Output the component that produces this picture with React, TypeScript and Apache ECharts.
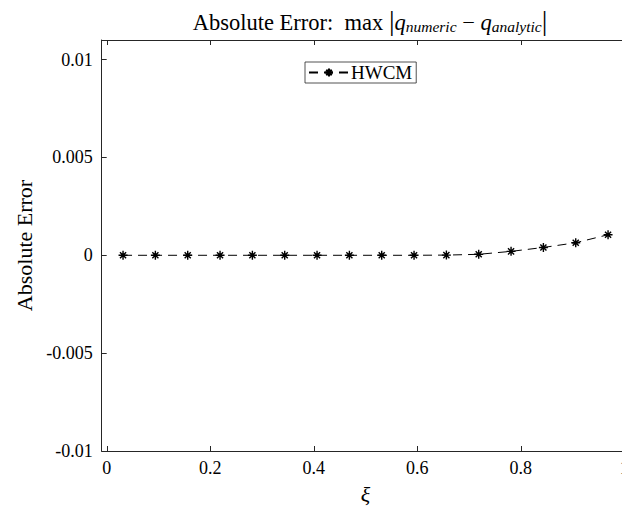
import React, { useEffect, useRef } from "react";
import * as echarts from "echarts";

// Collocation points ξ and the absolute error of the HWCM solution at each one
const xi = [
  0.03125, 0.09375, 0.15625, 0.21875, 0.28125, 0.34375, 0.40625, 0.46875,
  0.53125, 0.59375, 0.65625, 0.71875, 0.78125, 0.84375, 0.90625, 0.96875,
];
const absError = [
  0, 0, 0, 0, 0, 0, 0, 0,
  0, 0, 0.00001, 0.00005, 0.0002, 0.0004, 0.00064, 0.00105,
];
const seriesName = "HWCM";
const xTicks = [0, 0.2, 0.4, 0.6, 0.8, 1];
const yTicks = [-0.01, -0.005, 0, 0.005, 0.01];

const FONT = "'Liberation Serif', 'DejaVu Serif', serif";
const AXIS = "#262626";
// eight-pointed asterisk marker
const STAR = "path://M0,5L10,5M5,0L5,10M1.6,1.6L8.4,8.4M1.6,8.4L8.4,1.6";

// the figure is wider than the visible window; its right edge is cropped
const CHART_W = 650;
const CHART_H = 510;

export default function App() {
  const ref = useRef<HTMLDivElement>(null);

  useEffect(() => {
    if (!ref.current) return;
    const chart = echarts.init(ref.current, null, { renderer: "svg" });

    const points = xi.map((x, i) => [x, absError[i]]);

    const axisCommon = {
      type: "value" as const,
      axisLine: { show: true, onZero: false, lineStyle: { color: AXIS, width: 1 } },
      splitLine: { show: false },
    };
    const base = { fontFamily: FONT, color: "#000", fontWeight: "normal" as const };

    chart.setOption({
      animation: false,
      backgroundColor: "#ffffff",
      title: {
        text:
          "{t|Absolute Error:  max }{bar||}{q|q}{sub|numeric}{t| − }{q|q}{sub|analytic}{bar||}",
        left: 365,
        textAlign: "center",
        top: -2,
        textStyle: {
          fontWeight: "normal",
          rich: {
            t: { ...base, fontSize: 22.5, lineHeight: 30, verticalAlign: "bottom" },
            q: { ...base, fontSize: 22.5, fontStyle: "italic", lineHeight: 30, verticalAlign: "bottom" },
            sub: { ...base, fontSize: 15.5, fontStyle: "italic", lineHeight: 25, verticalAlign: "bottom" },
            bar: { ...base, fontSize: 28, lineHeight: 31, verticalAlign: "bottom" },
          },
        },
      },
      legend: {
        left: 305,
        top: 62,
        orient: "horizontal",
        data: [seriesName],
        itemWidth: 40,
        itemHeight: 10,
        itemGap: 4,
        padding: [1, 4, 1, 3],
        backgroundColor: "#ffffff",
        borderColor: AXIS,
        borderWidth: 0.8,
        borderRadius: 0,
        textStyle: { ...base, fontSize: 19, padding: [0, 0, 0, -3] },
      },
      grid: { left: 101.7, top: 40, right: CHART_W - 629.4, bottom: 57, containLabel: false },
      xAxis: [
        {
          ...axisCommon,
          position: "bottom",
          min: -0.01,
          max: 1.01,
          name: "ξ",
          nameLocation: "middle",
          nameGap: 32,
          nameTextStyle: { ...base, fontSize: 22, fontStyle: "italic" },
          axisTick: { show: true, inside: true, length: 5, lineStyle: { color: AXIS }, customValues: xTicks },
          axisLabel: {
            show: true,
            margin: 8,
            ...base,
            fontSize: 18,
            customValues: xTicks,
            formatter: (v: number) => String(Number(v.toFixed(2))),
          },
        },
        {
          ...axisCommon,
          position: "top",
          min: -0.01,
          max: 1.01,
          axisTick: { show: true, inside: true, length: 5, lineStyle: { color: AXIS }, customValues: xTicks },
          axisLabel: { show: false },
        },
      ],
      yAxis: [
        {
          ...axisCommon,
          position: "left",
          min: -0.01,
          max: 0.011,
          name: "Absolute Error",
          nameLocation: "middle",
          nameGap: 66,
          nameTextStyle: { ...base, fontSize: 22 },
          axisTick: { show: true, inside: true, length: 5, lineStyle: { color: AXIS }, customValues: yTicks },
          axisLabel: {
            show: true,
            margin: 9,
            ...base,
            fontSize: 18,
            customValues: yTicks,
            formatter: (v: number) => String(Number(v.toFixed(4))),
          },
        },
        {
          ...axisCommon,
          position: "right",
          min: -0.01,
          max: 0.011,
          axisTick: { show: true, inside: true, length: 5, lineStyle: { color: AXIS }, customValues: yTicks },
          axisLabel: { show: false },
        },
      ],
      series: [
        {
          name: seriesName,
          type: "line",
          xAxisIndex: 0,
          yAxisIndex: 0,
          data: points,
          symbol: STAR,
          symbolSize: 9,
          showAllSymbol: true,
          lineStyle: { color: "#000", width: 1, type: [9, 6] },
          itemStyle: { color: "#000", borderColor: "#000", borderWidth: 1.4 },
        },
      ],
    });

    return () => chart.dispose();
  }, []);

  return (
    <div style={{ position: "absolute", left: 0, top: 0, width: 622, height: CHART_H, overflow: "hidden", background: "#fff" }}>
      <div ref={ref} style={{ width: CHART_W, height: CHART_H }} />
    </div>
  );
}
